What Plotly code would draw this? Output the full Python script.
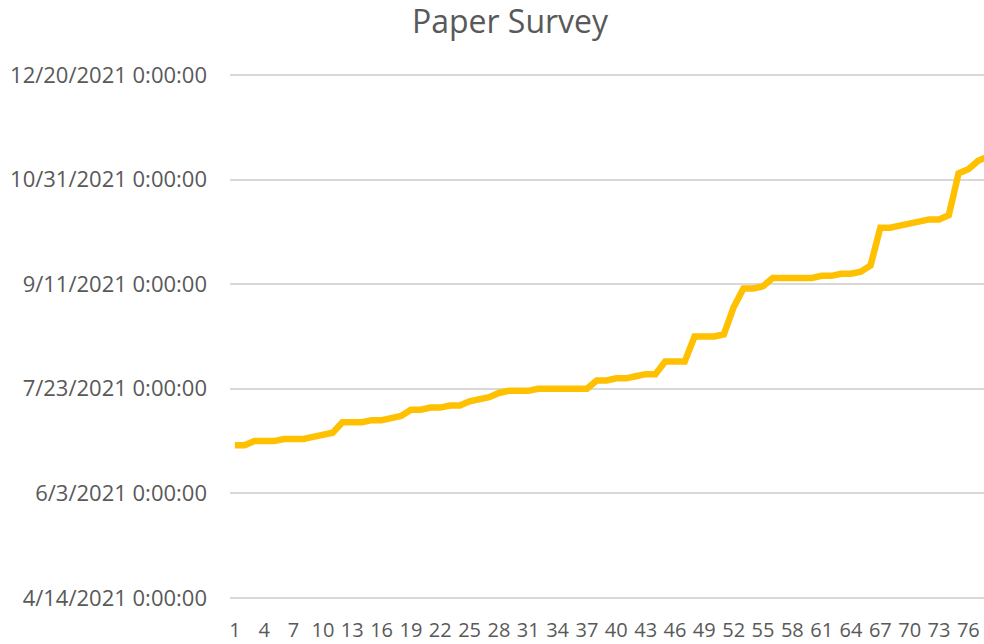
import plotly.graph_objects as go

# Data
survey_index = list(range(1, 79))
survey_dates = [
    "2021-06-26", "2021-06-26", "2021-06-28", "2021-06-28", "2021-06-28",
    "2021-06-29", "2021-06-29", "2021-06-29", "2021-06-30", "2021-07-01",
    "2021-07-02", "2021-07-07", "2021-07-07", "2021-07-07", "2021-07-08",
    "2021-07-08", "2021-07-09", "2021-07-10", "2021-07-13", "2021-07-13",
    "2021-07-14", "2021-07-14", "2021-07-15", "2021-07-15", "2021-07-17",
    "2021-07-18", "2021-07-19", "2021-07-21", "2021-07-22", "2021-07-22",
    "2021-07-22", "2021-07-23", "2021-07-23", "2021-07-23", "2021-07-23",
    "2021-07-23", "2021-07-23", "2021-07-27", "2021-07-27", "2021-07-28",
    "2021-07-28", "2021-07-29", "2021-07-30", "2021-07-30", "2021-08-05",
    "2021-08-05", "2021-08-05", "2021-08-17", "2021-08-17", "2021-08-17",
    "2021-08-18", "2021-08-31", "2021-09-09", "2021-09-09", "2021-09-10",
    "2021-09-14", "2021-09-14", "2021-09-14", "2021-09-14", "2021-09-14",
    "2021-09-15", "2021-09-15", "2021-09-16", "2021-09-16", "2021-09-17",
    "2021-09-20", "2021-10-08", "2021-10-08", "2021-10-09", "2021-10-10",
    "2021-10-11", "2021-10-12", "2021-10-12", "2021-10-14", "2021-11-03",
    "2021-11-05", "2021-11-09", "2021-11-11",
]
x_tick_values = list(range(1, 77, 3))
y_tick0 = "2021-04-14"
y_range = ["2021-04-13", "2021-12-21"]   # one day of padding so edge gridlines show
y_tick_step_days = 50
title_text = "Paper Survey"

font_family = "Open Sans, Liberation Sans, Arial, sans-serif"
text_color = "#595959"

W, H = 984, 644

fig = go.Figure()
fig.add_trace(go.Scatter(
    x=survey_index,
    y=survey_dates,
    mode="lines",
    line=dict(color="#FFC000", width=6.5, shape="linear"),
    hoverinfo="x+y",
    showlegend=False,
))

fig.update_layout(
    width=W,
    height=H,
    paper_bgcolor="white",
    plot_bgcolor="white",
    margin=dict(l=230, r=0, t=73, b=44, autoexpand=False),
    title=dict(
        text=title_text,
        x=510 / W,
        xref="container",
        xanchor="center",
        y=1 - 22 / H,
        yref="container",
        yanchor="middle",
        font=dict(family=font_family, size=32, color=text_color),
    ),
    xaxis=dict(
        type="linear",
        range=[0.5, 77.6],
        tickmode="array",
        tickvals=x_tick_values,
        ticktext=[str(v) for v in x_tick_values],
        tickangle=0,
        showgrid=False,
        zeroline=False,
        showline=False,
        ticks="",
        ticklabelstandoff=16,
        automargin=False,
        tickfont=dict(family=font_family, size=20, color=text_color),
    ),
    yaxis=dict(
        type="date",
        range=y_range,
        tick0=y_tick0,
        dtick=y_tick_step_days * 86400000,
        tickformat="%-m/%-d/%Y %-H:%M:%S",
        showgrid=True,
        gridcolor="#D9D9D9",
        gridwidth=2,
        zeroline=False,
        showline=False,
        ticks="",
        ticklabelstandoff=22,
        automargin=False,
        tickfont=dict(family=font_family, size=22, color=text_color),
    ),
)

fig.write_html(
    "out.html",
    config={"displayModeBar": False},
    post_script="document.body.style.margin='0';document.body.style.overflow='hidden';",
)
